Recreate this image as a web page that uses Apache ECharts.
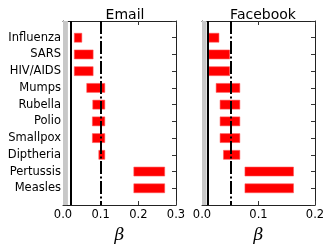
<!DOCTYPE html>
<html>
<head>
<meta charset="utf-8">
<script src="https://cdn.jsdelivr.net/npm/echarts@6/dist/echarts.min.js"></script>
<style>html,body{margin:0;padding:0;background:#fff;}#c{width:332px;height:249px;}</style>
</head>
<body>
<div id="c"></div>
<script>
const categories = ['Influenza','SARS','HIV/AIDS','Mumps','Rubella','Polio','Smallpox','Diptheria','Pertussis','Measles'];
const emailLow  = [0.030,0.030,0.030,0.063,0.079,0.078,0.078,0.095,0.188,0.188];
const emailHigh = [0.050,0.080,0.080,0.111,0.111,0.111,0.111,0.111,0.270,0.270];
const fbLow     = [0.012,0.012,0.012,0.025,0.032,0.032,0.032,0.038,0.076,0.076];
const fbHigh    = [0.030,0.049,0.049,0.067,0.067,0.067,0.067,0.067,0.162,0.162];
const emailBand = 0.013, emailSolid = 0.0155, emailDash = 0.103;
const fbBand = 0.008, fbSolid = 0.0095, fbDash = 0.046;
const emailTicks = {max: 0.3, interval: 0.1};
const fbTicks = {max: 0.2, interval: 0.1};

const chart = echarts.init(document.getElementById('c'));
const font = 'DejaVu Sans';
const frame = {show: true, onZero: false, lineStyle: {color: '#222', width: 1}};
const tickIn = {show: true, inside: true, length: 4, lineStyle: {color: '#333'}};

function xAxes(grid, t) {
  return [
    {type: 'value', gridIndex: grid, min: 0, max: t.max, interval: t.interval, position: 'bottom',
     axisLine: frame, axisTick: tickIn, splitLine: {show: false},
     axisLabel: {color: '#000', fontFamily: font, fontSize: 11.5, margin: 4, formatter: v => v.toFixed(1)},
     name: 'β', nameLocation: 'middle', nameGap: 22,
     nameTextStyle: {fontFamily: 'DejaVu Serif', fontStyle: 'italic', fontSize: 17, color: '#000'}},
    {type: 'value', gridIndex: grid, min: 0, max: t.max, interval: t.interval, position: 'top',
     axisLine: frame, axisTick: tickIn, splitLine: {show: false}, axisLabel: {show: false}}
  ];
}
function yAxes(grid, labels) {
  return [
    {type: 'value', gridIndex: grid, min: 0, max: categories.length + 1, interval: 1, inverse: true, position: 'left',
     axisLine: frame, axisTick: tickIn, splitLine: {show: false},
     axisLabel: {show: labels, color: '#000', fontFamily: font, fontSize: 11.5, margin: 2,
                 formatter: v => categories[v - 1] || ''}},
    {type: 'value', gridIndex: grid, min: 0, max: categories.length + 1, interval: 1, inverse: true, position: 'right',
     axisLine: frame, axisTick: tickIn, splitLine: {show: false}, axisLabel: {show: false}}
  ];
}
function renderItem(params, api) {
  const y = api.value(2);
  const s = api.coord([api.value(0), y]);
  const e = api.coord([api.value(1), y]);
  const h = 9;
  return {type: 'rect', shape: {x: s[0], y: s[1] - h / 2, width: e[0] - s[0], height: h},
          style: {fill: '#ff0000', stroke: 'rgba(255,90,90,0.55)', lineWidth: 1}};
}
function barSeries(xi, yi, low, high) {
  return {type: 'custom', xAxisIndex: xi, yAxisIndex: yi, renderItem, z: 3,
          encode: {x: [0, 1], y: 2},
          data: categories.map((c, i) => [low[i], high[i], i + 1])};
}
function refSeries(xi, yi, band, solid, dash) {
  return [
    {type: 'line', xAxisIndex: xi, yAxisIndex: yi, data: [], z: 1,
     markArea: {silent: true, itemStyle: {color: '#c8c8c8'}, data: [[{xAxis: 0}, {xAxis: band}]]}},
    {type: 'line', xAxisIndex: xi, yAxisIndex: yi, data: [], z: 5,
     markLine: {silent: true, symbol: 'none', label: {show: false}, animation: false,
       data: [
         {xAxis: solid, lineStyle: {color: '#000', width: 2, type: 'solid'}},
         {xAxis: dash, lineStyle: {color: '#000', width: 2, type: [13, 2.5, 2, 2.5]}}
       ]}}
  ];
}

chart.setOption({
  animation: false,
  title: [
    {text: 'Email', left: 120, top: 3, textAlign: 'center',
     textStyle: {fontFamily: font, fontSize: 14, fontWeight: 'normal', color: '#000'}},
    {text: 'Facebook', left: 258, top: 3, textAlign: 'center',
     textStyle: {fontFamily: font, fontSize: 14, fontWeight: 'normal', color: '#000'}}
  ],
  grid: [
    {left: 63, top: 21, width: 113, height: 186},
    {left: 202, top: 21, width: 113, height: 186}
  ],
  xAxis: [...xAxes(0, emailTicks), ...xAxes(1, fbTicks)],
  yAxis: [...yAxes(0, true), ...yAxes(1, false)],
  series: [
    ...refSeries(0, 0, emailBand, emailSolid, emailDash),
    barSeries(0, 0, emailLow, emailHigh),
    ...refSeries(2, 2, fbBand, fbSolid, fbDash),
    barSeries(2, 2, fbLow, fbHigh)
  ]
});
</script>
</body>
</html>
